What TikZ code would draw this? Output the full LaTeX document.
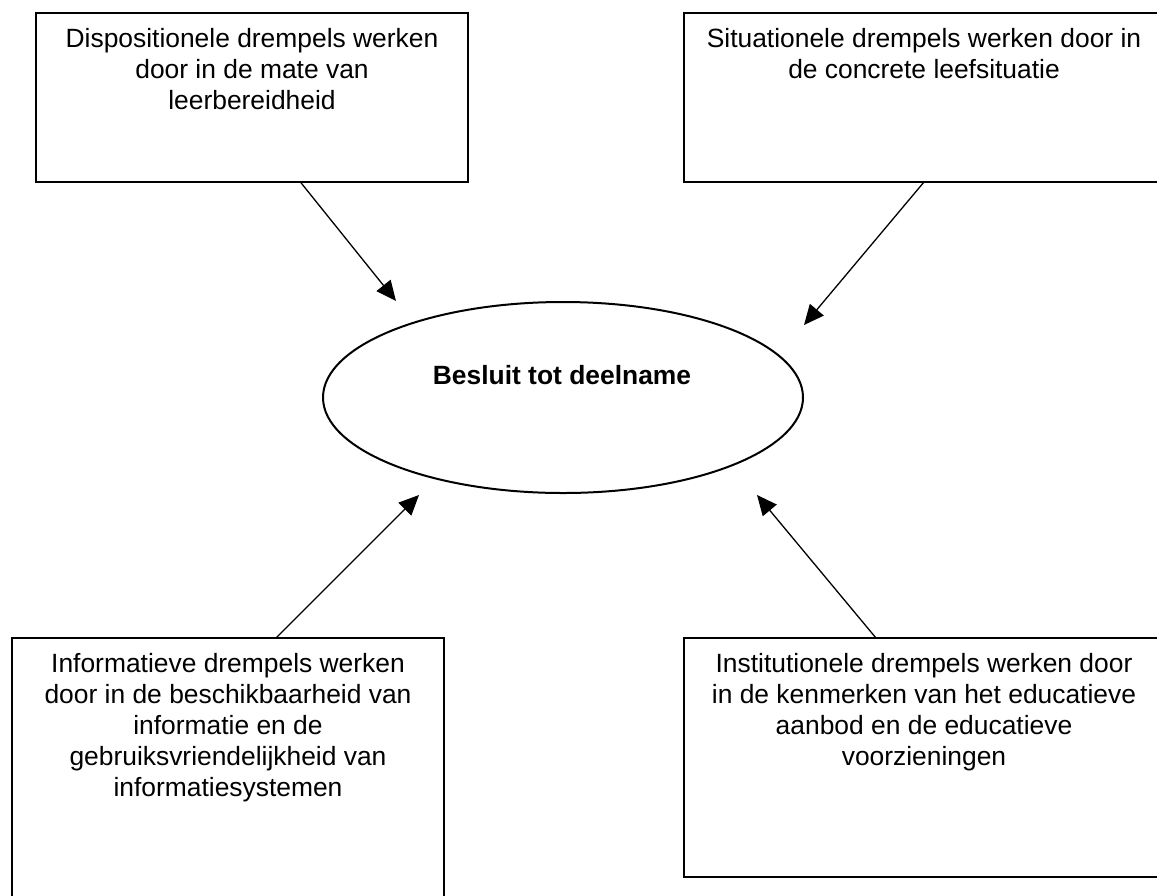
\documentclass[tikz,border=0pt]{standalone}
\usepackage{fontspec}
\setmainfont{Liberation Sans}
\usetikzlibrary{shapes.geometric,arrows.meta,calc}
\begin{document}
\begin{tikzpicture}[x=1pt,y=-1pt,
  frame/.style={draw=black, line width=2pt, rectangle, inner sep=0pt, outer sep=0pt, anchor=north west},
  boxtext/.style={anchor=north, inner sep=0pt, align=center, font=\fontsize{26.4}{30.8}\selectfont},
  flow/.style={draw=black, line width=1.3pt, -{Triangle[length=20pt,width=18pt]}}]

% page area
\path[use as bounding box, clip] (0,0) rectangle (1157,895);

% the four threshold boxes
\node[frame, minimum width=432pt, minimum height=169pt] (disp) at (36,13) {};
\node[frame, minimum width=480pt, minimum height=169pt] (situ) at (684,13) {};
\node[frame, minimum width=432pt, minimum height=270pt] (info) at (12,638) {};
\node[frame, minimum width=480pt, minimum height=239pt] (inst) at (684,638) {};

\node[boxtext] (disptxt) at ($(disp.north)+(0,15.5)$)
  {Dispositionele drempels werken\\door in de mate van\\leerbereidheid};
\node[boxtext] (situtxt) at ($(situ.north)+(0,15.5)$)
  {Situationele drempels werken door in\\de concrete leefsituatie};
\node[boxtext] (infotxt) at ($(info.north)+(0,15.5)$)
  {Informatieve drempels werken\\door in de beschikbaarheid van\\informatie en de\\gebruiksvriendelijkheid van\\informatiesystemen};
\node[boxtext] (insttxt) at ($(inst.north)+(0,15.5)$)
  {Institutionele drempels werken door\\in de kenmerken van het educatieve\\aanbod en de educatieve\\voorzieningen};

% central decision
\node[draw=black, ellipse, line width=2pt, minimum width=480pt, minimum height=191pt,
      inner sep=0pt, outer sep=0pt] (besluit) at (563,397.5) {};
\node[anchor=base, inner sep=0pt, font=\bfseries\fontsize{26.4}{30.8}\selectfont]
  (besluittxt) at (562,384) {Besluit tot deelname};

% arrow ends near the ellipse
\coordinate (tipdisp) at (396,301);
\coordinate (tipsitu) at (804,325);
\coordinate (tipinfo) at (419,495);
\coordinate (tipinst) at (757,495);

\draw[flow] ($(disp.south west)!0.612!(disp.south east)$) -- (tipdisp);
\draw[flow] (situ.south) -- (tipsitu);
\draw[flow] ($(info.north west)!0.611!(info.north east)$) -- (tipinfo);
\draw[flow] ($(inst.north west)!0.4!(inst.north east)$) -- (tipinst);
\end{tikzpicture}
\end{document}
